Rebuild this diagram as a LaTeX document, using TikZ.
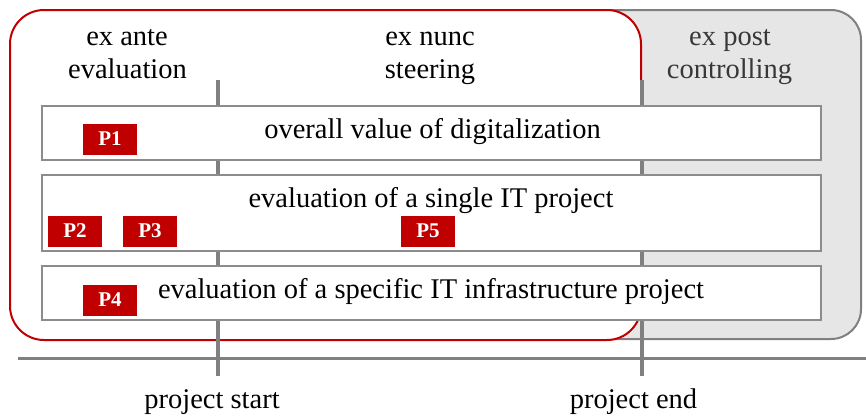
\documentclass[tikz,border=0pt]{standalone}
\usepackage{fontspec}
\setmainfont{Liberation Serif}
\definecolor{dred}{HTML}{C00000}
\definecolor{lgray}{HTML}{E6E6E6}
\definecolor{mgray}{HTML}{808080}
\definecolor{bgray}{HTML}{8C8C8C}
\tikzset{
  bigtext/.style={font=\fontsize{28.5}{33}\selectfont, text=black, inner sep=0pt, align=center},
  rowbox/.style={draw=bgray, line width=1.5pt, fill=white, minimum width=779pt, inner sep=0pt},
  ptag/.style={fill=dred, text=white, font=\fontsize{21}{21}\selectfont\bfseries, minimum width=54pt, minimum height=31pt, inner sep=0pt},
  timeline/.style={draw=mgray, line width=4pt},
  axisline/.style={draw=mgray, line width=3pt}
}
\begin{document}
\begin{tikzpicture}[x=1pt,y=-1pt]
\useasboundingbox (0,0) rectangle (866,416);
% phase regions
\draw[draw=mgray, fill=lgray, line width=2pt, rounded corners=30pt] (400,10) rectangle (861,339);
\draw[draw=dred, fill=white, line width=2pt, rounded corners=34pt] (10,10) rectangle (641,340);
% project start and end markers
\coordinate (s1) at (218,80);
\coordinate (s2) at (218,376);
\coordinate (e1) at (642,80);
\coordinate (e2) at (642,376);
\draw[timeline] (s1) -- (s2);
\draw[timeline] (e1) -- (e2);
% time axis
\coordinate (a1) at (18,358);
\coordinate (a2) at (866,358);
\draw[axisline] (a1) -- (a2);
% rows
\node[rowbox, minimum height=54pt] (r1) at (431.5,133) {};
\node[rowbox, minimum height=76pt] (r2) at (431.5,213) {};
\node[rowbox, minimum height=54pt] (r3) at (431.5,293) {};
\node[bigtext, anchor=base] (t1) at (432.5,138) {overall value of digitalization};
\node[bigtext, anchor=base] (t2) at (431,207) {evaluation of a single IT project};
\node[bigtext, anchor=base] (t3) at (431,298) {evaluation of a specific IT infrastructure project};
% phase headings
\node[bigtext, anchor=base] (h1a) at (127,45) {ex ante};
\node[bigtext, anchor=base] (h1b) at (127.5,78) {evaluation};
\node[bigtext, anchor=base] (h2a) at (430,45) {ex nunc};
\node[bigtext, anchor=base] (h2b) at (430,78) {steering};
\node[bigtext, anchor=base, text=black!78] (h3a) at (730,45) {ex post};
\node[bigtext, anchor=base, text=black!78] (h3b) at (729.5,78) {controlling};
% axis labels
\node[bigtext, anchor=base] (ps) at (212,408) {project start};
\node[bigtext, anchor=base] (pe) at (633.5,408) {project end};
% tags
\node[ptag] (p1) at (110,139) {P1};
\node[ptag] (p2) at (75,231) {P2};
\node[ptag] (p3) at (150,231) {P3};
\node[ptag] (p4) at (110,300) {P4};
\node[ptag] (p5) at (428,231) {P5};
\end{tikzpicture}
\end{document}
